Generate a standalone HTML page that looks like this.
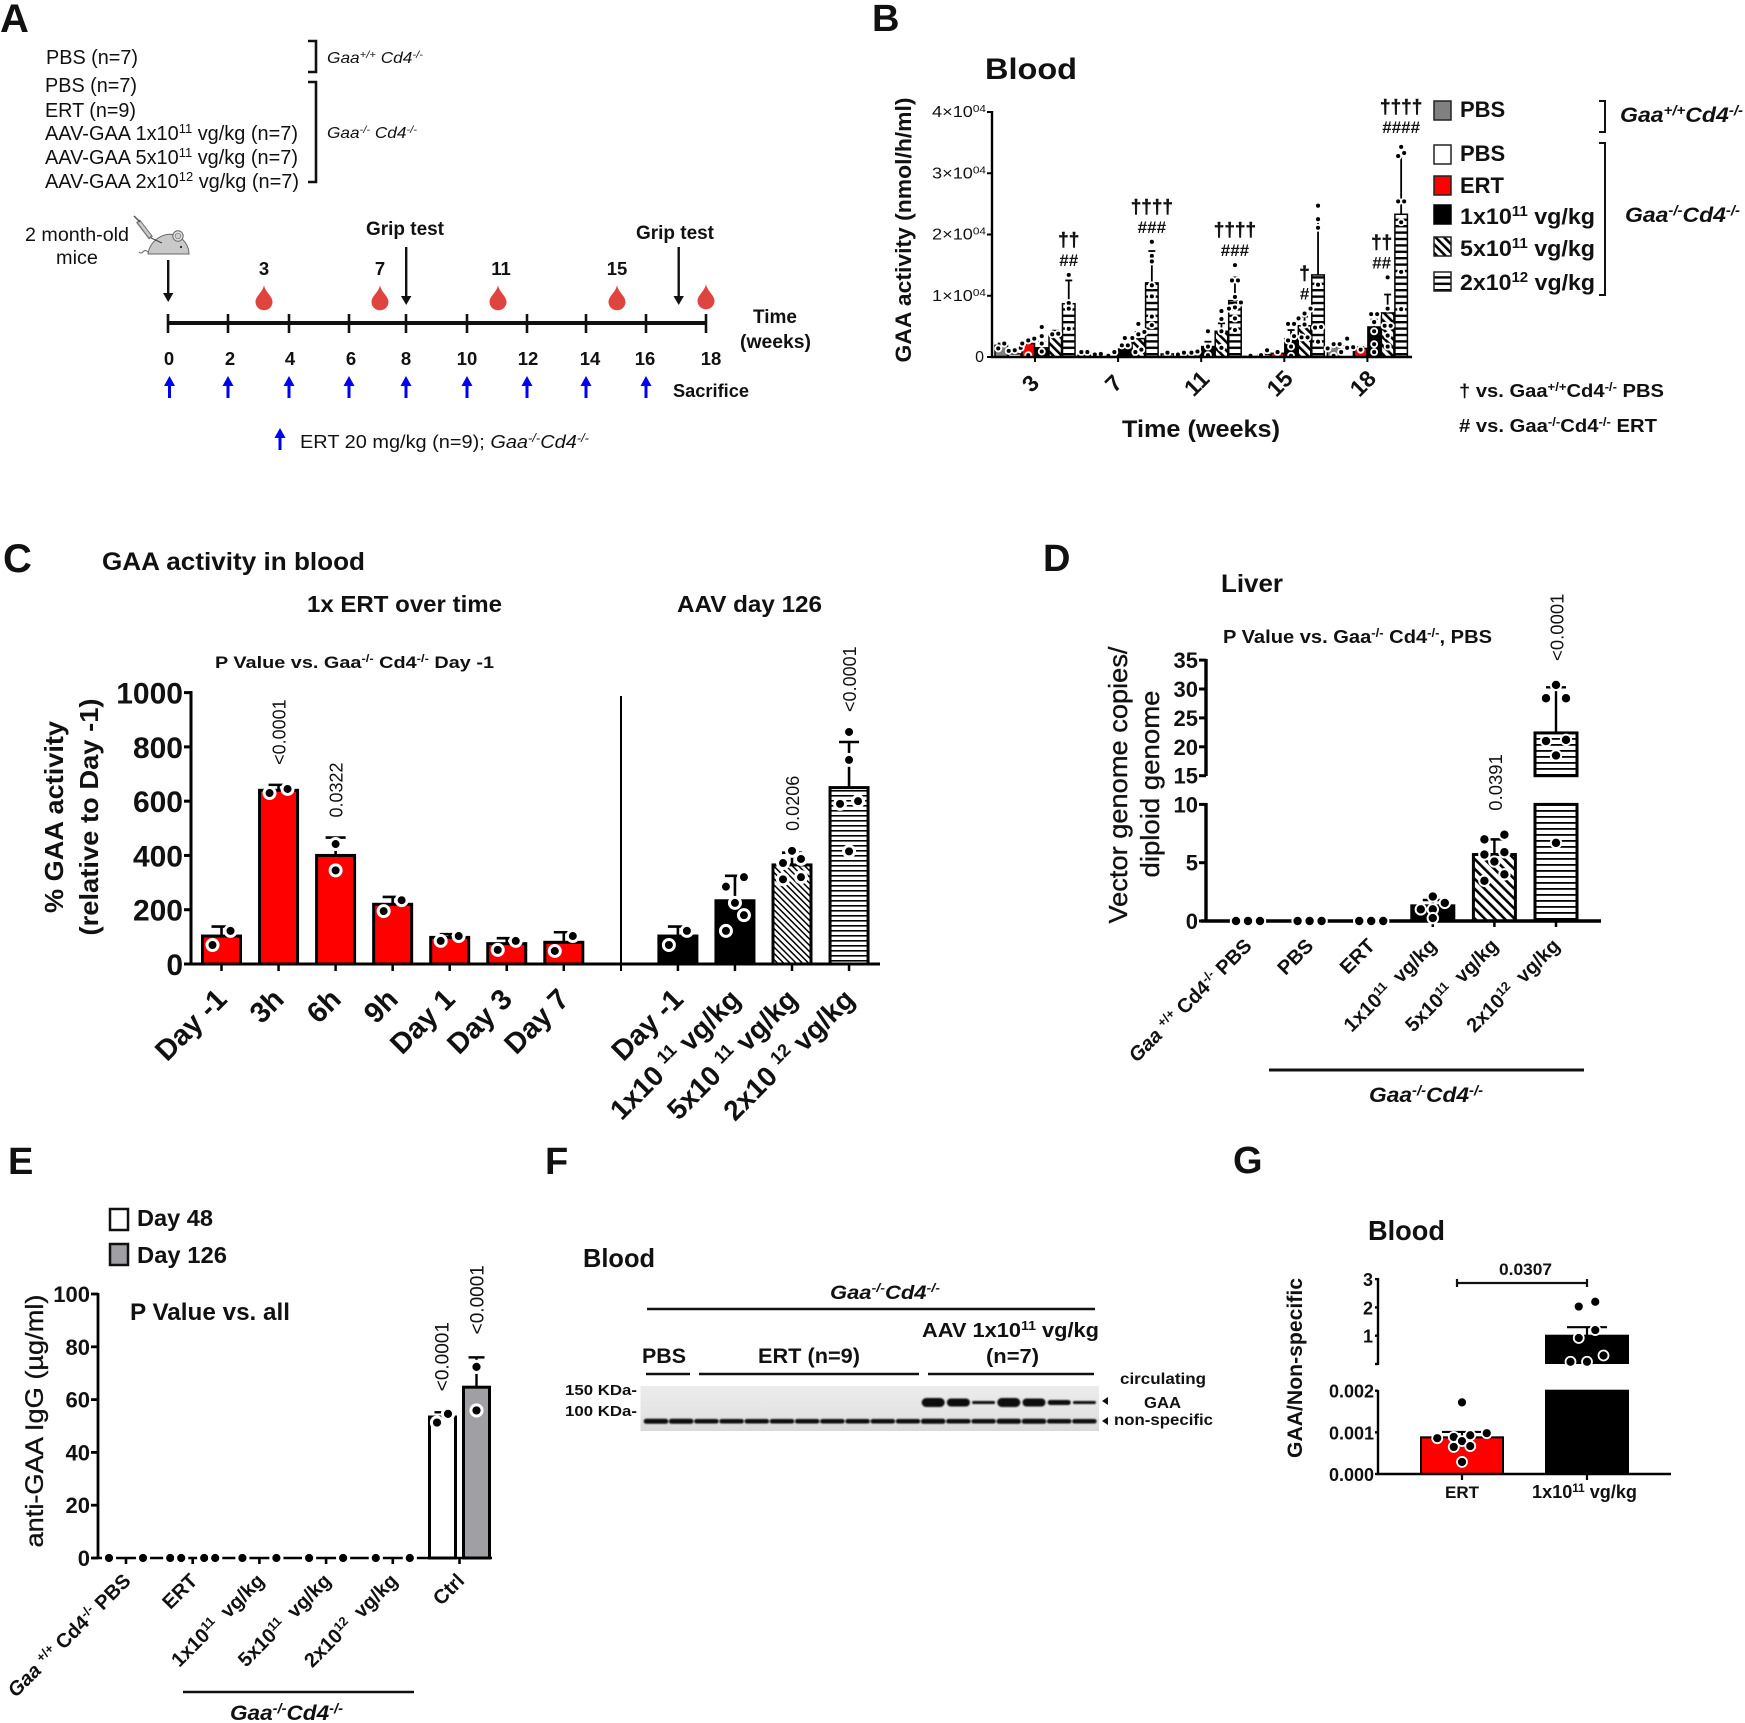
<!DOCTYPE html>
<html lang="en">
<head>
<meta charset="utf-8">
<title>GAA activity figure</title>
<style>
html,body{margin:0;padding:0;background:#fff}
svg{display:block}
text{font-family:"Liberation Sans",Arial,sans-serif;fill:#111}
.b{font-weight:bold}
.i{font-style:italic}
.s{font-size:.65em;baseline-shift:super}
.m{stroke:#111;stroke-width:.35px}
.h{stroke:#111;stroke-width:.5px}
</style>
</head>
<body>
<svg id="figure" xmlns="http://www.w3.org/2000/svg" width="1745" height="1723" viewBox="0 0 1745 1723">
<defs>
<pattern id="hatchB" patternUnits="userSpaceOnUse" width="6" height="6" patternTransform="rotate(-45)"><rect width="6" height="6" fill="#fff"/><rect width="2.6" height="6" fill="#000"/></pattern>
<pattern id="stripeB" patternUnits="userSpaceOnUse" width="6.4" height="6.4" y="1"><rect width="6.4" height="6.4" fill="#fff"/><rect width="6.4" height="2.4" fill="#000"/></pattern>
<pattern id="hatchC" patternUnits="userSpaceOnUse" width="4.4" height="4.4" patternTransform="rotate(-45)"><rect width="4.4" height="4.4" fill="#fff"/><rect width="1.5" height="4.4" fill="#000"/></pattern>
<pattern id="stripeC" patternUnits="userSpaceOnUse" width="5" height="5"><rect width="5" height="5" fill="#fff"/><rect width="5" height="1.6" fill="#000"/></pattern>
<pattern id="hatchD" patternUnits="userSpaceOnUse" width="7" height="7" patternTransform="rotate(-45)"><rect width="7" height="7" fill="#fff"/><rect width="2.6" height="7" fill="#000"/></pattern>
<pattern id="stripeD" patternUnits="userSpaceOnUse" width="6" height="6"><rect width="6" height="6" fill="#fff"/><rect width="6" height="1.8" fill="#000"/></pattern>
<linearGradient id="blotFill" x1="0" y1="0" x2="0" y2="1"><stop offset="0" stop-color="#ececec"/><stop offset=".65" stop-color="#e3e3e3"/><stop offset="1" stop-color="#d9d9d9"/></linearGradient>
<filter id="soft" x="-20%" y="-60%" width="140%" height="220%"><feGaussianBlur stdDeviation="0.8"/></filter>
</defs>

<!-- PANEL A -->
<g id="panel-a">
<text class="b" x="0" y="32" font-size="40">A</text>
<text x="46" y="64" font-size="20" textLength="92" lengthAdjust="spacingAndGlyphs">PBS (n=7)</text>
<text x="45" y="92" font-size="20" textLength="92" lengthAdjust="spacingAndGlyphs">PBS (n=7)</text>
<text x="45" y="117" font-size="20" textLength="91" lengthAdjust="spacingAndGlyphs">ERT (n=9)</text>
<text x="45" y="140" font-size="20" textLength="253" lengthAdjust="spacingAndGlyphs">AAV-GAA 1x10<tspan class="s">11</tspan> vg/kg (n=7)</text>
<text x="45" y="164" font-size="20" textLength="253" lengthAdjust="spacingAndGlyphs">AAV-GAA 5x10<tspan class="s">11</tspan> vg/kg (n=7)</text>
<text x="45" y="188" font-size="20" textLength="254" lengthAdjust="spacingAndGlyphs">AAV-GAA 2x10<tspan class="s">12</tspan> vg/kg (n=7)</text>
<path d="M308,41 H316 V72 H308" fill="none" stroke="#111" stroke-width="2.6"/>
<path d="M308,82 H316 V182 H308" fill="none" stroke="#111" stroke-width="2.6"/>
<text class="i" x="327" y="63" font-size="16" textLength="96" lengthAdjust="spacingAndGlyphs">Gaa<tspan class="s">+/+</tspan> Cd4<tspan class="s">-/-</tspan></text>
<text class="i" x="327" y="138" font-size="16" textLength="90" lengthAdjust="spacingAndGlyphs">Gaa<tspan class="s">-/-</tspan> Cd4<tspan class="s">-/-</tspan></text>

<text x="25" y="241" font-size="19" textLength="104" lengthAdjust="spacingAndGlyphs">2 month-old</text>
<text x="56" y="264" font-size="19" textLength="42" lengthAdjust="spacingAndGlyphs">mice</text>
<g>
<path d="M148,254 C150,240 164,232 175,235 C184,238 189,246 189,254 Z" fill="#c9c9c9" stroke="#666" stroke-width="1"/>
<circle cx="178" cy="236" r="5.2" fill="#e2e2e2" stroke="#666"/><circle cx="178" cy="236" r="2.8" fill="#cfcfcf" stroke="#777" stroke-width=".7"/>
<circle cx="181" cy="247" r="1.1" fill="#222"/>
<path d="M148,252 q-3,-3 -5,0 q-2,2 -4,0" fill="none" stroke="#666"/>
<line x1="138" y1="221" x2="151" y2="238" stroke="#777" stroke-width="5"/>
<line x1="139" y1="222" x2="150" y2="236.500" stroke="#ccc" stroke-width="2.6"/>
<line x1="151" y1="238" x2="162" y2="243" stroke="#444" stroke-width="1"/>
<line x1="134" y1="216" x2="140" y2="222" stroke="#555" stroke-width="1.5"/>
</g>
<g fill="#111" stroke="none">
<rect x="167" y="260" width="2.4" height="34"/><path d="M163,293 h10.400 l-5.200,9z"/>
<rect x="405" y="247" width="2.4" height="50"/><path d="M401,296 h10.400 l-5.200,9z"/>
<rect x="677.500" y="247" width="2.4" height="50"/><path d="M673.500,296 h10.400 l-5.200,9z"/>
</g>
<text class="b" x="366" y="235" font-size="19" textLength="78" lengthAdjust="spacingAndGlyphs">Grip test</text>
<text class="b" x="636" y="239" font-size="19" textLength="78" lengthAdjust="spacingAndGlyphs">Grip test</text>
<g class="b" font-size="18.500" text-anchor="middle">
<text x="264" y="275">3</text>
<text x="380" y="275">7</text>
<text x="501" y="275">11</text>
<text x="617" y="275">15</text>
</g>
<g fill="#e0443e">
<path transform="translate(264,285)" d="M0,0 C1,7 8.5,11 8.5,17 A8.5,8.3 0 0 1 -8.5,17 C-8.5,11 -1,7 0,0Z"/>
<path transform="translate(380,285)" d="M0,0 C1,7 8.5,11 8.5,17 A8.5,8.3 0 0 1 -8.5,17 C-8.5,11 -1,7 0,0Z"/>
<path transform="translate(498,285)" d="M0,0 C1,7 8.5,11 8.5,17 A8.5,8.3 0 0 1 -8.5,17 C-8.5,11 -1,7 0,0Z"/>
<path transform="translate(617,285)" d="M0,0 C1,7 8.5,11 8.5,17 A8.5,8.3 0 0 1 -8.5,17 C-8.5,11 -1,7 0,0Z"/>
<path transform="translate(706,284)" d="M0,0 C1,7 8.5,11 8.5,17 A8.5,8.3 0 0 1 -8.5,17 C-8.5,11 -1,7 0,0Z"/>
</g>
<g stroke="#111">
<line x1="168" y1="323" x2="706.5" y2="323" stroke-width="4"/>
<g stroke-width="2.6">
<line x1="168" y1="314" x2="168" y2="333"/><line x1="228" y1="314" x2="228" y2="333"/><line x1="289" y1="314" x2="289" y2="333"/><line x1="349" y1="314" x2="349" y2="333"/><line x1="406" y1="314" x2="406" y2="333"/><line x1="467" y1="314" x2="467" y2="333"/><line x1="527" y1="314" x2="527" y2="333"/><line x1="586" y1="314" x2="586" y2="333"/><line x1="646" y1="314" x2="646" y2="333"/><line x1="706" y1="314" x2="706" y2="333"/>
</g>
</g>
<g class="b" font-size="18.500" text-anchor="middle">
<text x="169" y="365">0</text>
<text x="230" y="365">2</text>
<text x="290" y="365">4</text>
<text x="351" y="365">6</text>
<text x="406" y="365">8</text>
<text x="467" y="365">10</text>
<text x="528" y="365">12</text>
<text x="590" y="365">14</text>
<text x="645" y="365">16</text>
<text x="711" y="365">18</text>
</g>
<g fill="#0000f0">
<path d="M168,398 V386 H164 L169.500,376 L175,386 H171 V398Z"/>
<path d="M226.500,398 V386 H222.500 L228,376 L233.500,386 H229.500 V398Z"/>
<path d="M287.500,398 V386 H283.500 L289,376 L294.500,386 H290.500 V398Z"/>
<path d="M347.500,398 V386 H343.500 L349,376 L354.500,386 H350.500 V398Z"/>
<path d="M404.500,398 V386 H400.500 L406,376 L411.500,386 H407.500 V398Z"/>
<path d="M465.500,398 V386 H461.500 L467,376 L472.500,386 H468.500 V398Z"/>
<path d="M525.500,398 V386 H521.500 L527,376 L532.500,386 H528.500 V398Z"/>
<path d="M584.500,398 V386 H580.500 L586,376 L591.500,386 H587.500 V398Z"/>
<path d="M644.500,398 V386 H640.500 L646,376 L651.500,386 H647.500 V398Z"/>
<path d="M278.500,450 V438 H274.500 L280,428 L285.500,438 H281.500 V450Z"/>
</g>
<text class="b" x="753" y="323" font-size="19" textLength="44" lengthAdjust="spacingAndGlyphs">Time</text>
<text class="b" x="740" y="348" font-size="19" textLength="71" lengthAdjust="spacingAndGlyphs">(weeks)</text>
<text class="b" x="673" y="397" font-size="18" textLength="76" lengthAdjust="spacingAndGlyphs">Sacrifice</text>
<text x="300" y="448" font-size="18" textLength="289" lengthAdjust="spacingAndGlyphs">ERT 20 mg/kg (n=9); <tspan class="i">Gaa<tspan class="s">-/-</tspan>Cd4<tspan class="s">-/-</tspan></tspan></text>
</g>

<!-- PANEL B static -->
<g id="panel-b">
<text class="b" x="872" y="31" font-size="38">B</text>
<text class="b" x="985" y="79" font-size="30" textLength="92" lengthAdjust="spacingAndGlyphs">Blood</text>
<text class="b" x="911" y="230" font-size="22" text-anchor="middle" textLength="265" lengthAdjust="spacingAndGlyphs" transform="rotate(-90 911 230)">GAA activity (nmol/h/ml)</text>
<text class="b" x="1122" y="437" font-size="24" textLength="158" lengthAdjust="spacingAndGlyphs">Time (weeks)</text>
<rect x="1434" y="101" width="17" height="19" fill="#808080" stroke="#222" stroke-width="1.5"/>
<rect x="1434" y="145" width="17" height="19" fill="#fff" stroke="#222" stroke-width="1.5"/>
<rect x="1434" y="176" width="17" height="19" fill="#f00" stroke="#222" stroke-width="1.5"/>
<rect x="1434" y="205" width="17" height="19" fill="#000" stroke="#000" stroke-width="1.5"/>
<rect x="1434" y="237" width="17" height="19" fill="url(#hatchB)" stroke="#222" stroke-width="1.5"/>
<rect x="1434" y="272" width="17" height="19" fill="url(#stripeB)" stroke="#222" stroke-width="1.5"/>
<g class="b" font-size="22">
<text x="1460" y="117">PBS</text>
<text x="1460" y="161">PBS</text>
<text x="1460" y="193">ERT</text>
<text x="1460" y="224" textLength="135" lengthAdjust="spacingAndGlyphs">1x10<tspan class="s">11</tspan> vg/kg</text>
<text x="1460" y="256" textLength="135" lengthAdjust="spacingAndGlyphs">5x10<tspan class="s">11</tspan> vg/kg</text>
<text x="1460" y="290" textLength="135" lengthAdjust="spacingAndGlyphs">2x10<tspan class="s">12</tspan> vg/kg</text>
</g>
<path d="M1599,101 H1605 V132 H1599" fill="none" stroke="#111" stroke-width="2"/>
<path d="M1599,143 H1605 V295 H1599" fill="none" stroke="#111" stroke-width="2"/>
<text class="b i" x="1620" y="122" font-size="21" textLength="123" lengthAdjust="spacingAndGlyphs">Gaa<tspan class="s">+/+</tspan>Cd4<tspan class="s">-/-</tspan></text>
<text class="b i" x="1625" y="222" font-size="21" textLength="115" lengthAdjust="spacingAndGlyphs">Gaa<tspan class="s">-/-</tspan>Cd4<tspan class="s">-/-</tspan></text>
<text class="b" x="1459" y="397" font-size="18" textLength="205" lengthAdjust="spacingAndGlyphs">† vs. Gaa<tspan class="s">+/+</tspan>Cd4<tspan class="s">-/-</tspan> PBS</text>
<text class="b" x="1459" y="432" font-size="18" textLength="198" lengthAdjust="spacingAndGlyphs"># vs. Gaa<tspan class="s">-/-</tspan>Cd4<tspan class="s">-/-</tspan> ERT</text>
</g>

<!-- PANEL C static -->
<g id="panel-c">
<text class="b" x="3" y="572" font-size="40">C</text>
<text class="b" x="102" y="570" font-size="25" textLength="263" lengthAdjust="spacingAndGlyphs">GAA activity in blood</text>
<text class="b" x="307" y="612" font-size="23" textLength="195" lengthAdjust="spacingAndGlyphs">1x ERT over time</text>
<text class="b" x="677" y="612" font-size="23" textLength="145" lengthAdjust="spacingAndGlyphs">AAV day 126</text>
<text class="b" x="215" y="668" font-size="17" textLength="279" lengthAdjust="spacingAndGlyphs">P Value vs. Gaa<tspan class="s">-/-</tspan> Cd4<tspan class="s">-/-</tspan> Day -1</text>
<text class="b" x="63" y="817" font-size="26" text-anchor="middle" textLength="192" lengthAdjust="spacingAndGlyphs" transform="rotate(-90 63 817)">% GAA activity</text>
<text class="b" x="98" y="817" font-size="26" text-anchor="middle" textLength="237" lengthAdjust="spacingAndGlyphs" transform="rotate(-90 98 817)">(relative to Day -1)</text>
</g>

<!-- PANEL D static -->
<g id="panel-d">
<text class="b" x="1043" y="571" font-size="38">D</text>
<text class="b" x="1221" y="592" font-size="25" textLength="62" lengthAdjust="spacingAndGlyphs">Liver</text>
<text class="b" x="1223" y="643" font-size="18" textLength="269" lengthAdjust="spacingAndGlyphs">P Value vs. Gaa<tspan class="s">-/-</tspan> Cd4<tspan class="s">-/-</tspan>, PBS</text>
<text class="m" x="1127" y="785" font-size="26" text-anchor="middle" textLength="277" lengthAdjust="spacingAndGlyphs" transform="rotate(-90 1127 785)">Vector genome copies/</text>
<text class="m" x="1159" y="784" font-size="26" text-anchor="middle" textLength="187" lengthAdjust="spacingAndGlyphs" transform="rotate(-90 1159 784)">diploid genome</text>
<line x1="1269" y1="1070" x2="1584" y2="1070" stroke="#111" stroke-width="3"/>
<text class="b i" x="1369" y="1102" font-size="21" textLength="114" lengthAdjust="spacingAndGlyphs">Gaa<tspan class="s">-/-</tspan>Cd4<tspan class="s">-/-</tspan></text>
</g>

<!-- PANEL E static -->
<g id="panel-e">
<text class="b" x="8" y="1174" font-size="38">E</text>
<rect x="110" y="1209" width="18" height="21" fill="#fff" stroke="#111" stroke-width="2.5"/>
<rect x="110" y="1244" width="18" height="21" fill="#a0a0a4" stroke="#111" stroke-width="2.5"/>
<text class="b" x="137" y="1226" font-size="23" textLength="76" lengthAdjust="spacingAndGlyphs">Day 48</text>
<text class="b" x="137" y="1263" font-size="23" textLength="90" lengthAdjust="spacingAndGlyphs">Day 126</text>
<text class="b" x="130" y="1320" font-size="24" textLength="160" lengthAdjust="spacingAndGlyphs">P Value vs. all</text>
<text class="m" x="43" y="1421" font-size="25" text-anchor="middle" textLength="253" lengthAdjust="spacingAndGlyphs" transform="rotate(-90 43 1421)">anti-GAA IgG (µg/ml)</text>
<line x1="183" y1="1692" x2="414" y2="1692" stroke="#111" stroke-width="2.6"/>
<text class="b i" x="230" y="1720" font-size="21" textLength="113" lengthAdjust="spacingAndGlyphs">Gaa<tspan class="s">-/-</tspan>Cd4<tspan class="s">-/-</tspan></text>
</g>

<!-- PANEL F static -->
<g id="panel-f">
<text class="b" x="545" y="1174" font-size="38">F</text>
<text class="b" x="583" y="1267" font-size="26" textLength="72" lengthAdjust="spacingAndGlyphs">Blood</text>
<text class="b i" x="830" y="1299" font-size="19" textLength="110" lengthAdjust="spacingAndGlyphs">Gaa<tspan class="s">-/-</tspan>Cd4<tspan class="s">-/-</tspan></text>
<line x1="647" y1="1309" x2="1095" y2="1309" stroke="#111" stroke-width="2.4"/>
<text class="b" x="922" y="1337" font-size="20" textLength="177" lengthAdjust="spacingAndGlyphs">AAV 1x10<tspan class="s">11</tspan> vg/kg</text>
<text class="b" x="986" y="1363" font-size="20" textLength="53" lengthAdjust="spacingAndGlyphs">(n=7)</text>
<text class="b" x="642" y="1363" font-size="21" textLength="44" lengthAdjust="spacingAndGlyphs">PBS</text>
<text class="b" x="758" y="1363" font-size="21" textLength="102" lengthAdjust="spacingAndGlyphs">ERT (n=9)</text>
<g stroke="#111" stroke-width="2.4">
<line x1="646" y1="1374" x2="690" y2="1374"/><line x1="699" y1="1374" x2="919" y2="1374"/><line x1="928" y1="1374" x2="1094" y2="1374"/>
</g>
<text class="b" x="565" y="1395" font-size="15" textLength="72" lengthAdjust="spacingAndGlyphs">150 KDa-</text>
<text class="b" x="565" y="1416" font-size="15" textLength="72" lengthAdjust="spacingAndGlyphs">100 KDa-</text>
<rect id="blot-bg" x="640.500" y="1386" width="458.500" height="45" fill="url(#blotFill)"/>
<path d="M1108,1397 v8 l-6,-4z M1108,1417 v8 l-6,-4z" fill="#111"/>
<text class="b" x="1120" y="1384" font-size="16" textLength="86" lengthAdjust="spacingAndGlyphs">circulating</text>
<text class="b" x="1144" y="1408" font-size="16" textLength="37" lengthAdjust="spacingAndGlyphs">GAA</text>
<text class="b" x="1114" y="1425" font-size="16" textLength="99" lengthAdjust="spacingAndGlyphs">non-specific</text>
</g>

<!-- PANEL G static -->
<g id="panel-g">
<text class="b" x="1233" y="1173" font-size="38">G</text>
<text class="b" x="1368" y="1240" font-size="28" textLength="77" lengthAdjust="spacingAndGlyphs">Blood</text>
<text class="b" x="1302" y="1368" font-size="21" text-anchor="middle" textLength="180" lengthAdjust="spacingAndGlyphs" transform="rotate(-90 1302 1368)">GAA/Non-specific</text>
<path d="M1457,1279 V1287 M1457,1283 H1587 M1587,1279 V1287" fill="none" stroke="#111" stroke-width="2.2"/>
<text class="b" x="1499" y="1275" font-size="17" textLength="53" lengthAdjust="spacingAndGlyphs">0.0307</text>
</g>

<script>
// ---------- Panel B data ----------
const bWeeks = ['3', '7', '11', '15', '18'];
const bSeriesNames = ['control-pbs', 'pbs', 'ert', 'low-dose', 'mid-dose', 'high-dose'];
const bMeans = [
  [1900, 300, 500, 100, 1700],
  [500, 300, 500, 400, 1300],
  [2200, 400, 500, 600, 1400],
  [1500, 1300, 1700, 3000, 4900],
  [3500, 3000, 4200, 5100, 7200],
  [8700, 12100, 9200, 13400, 23300]
];
const bErrors = [
  [300, 200, 200, 100, 300],
  [300, 100, 100, 300, 500],
  [600, 200, 200, 300, 200],
  [1000, 600, 800, 1400, 1200],
  [800, 1100, 1300, 1500, 3000],
  [3800, 5200, 3800, 9100, 9600]
];
const bPoints = [
  [[2200, 1400], [800, 800], [700], [200], [2100, 2100, 1400, 200]],
  [[1500, 1000, 1100], [400, 500], [700, 400], [1100, 300], [3000, 1600, 1500, 800]],
  [[3000, 2200, 2700, 300], [800, 200], [700, 900], [800], [1200]],
  [[4900, 3400, 2200, 900], [1900, 1900, 3100], [4200, 1700, 300], [2700, 5400, 5400, 3400, 1700, 200], [7000, 7000, 5700, 4200, 2100, 800]],
  [[3700, 3800], [3100, 5400, 4100, 3700, 1200, 800], [6200, 4200, 1500, 7500], [7100, 7900, 6300, 5300, 3200, 3200], [13000, 7900, 5100, 5100, 3500, 1700]],
  [[13400, 8800, 7900, 4600], [18800, 16500, 15600, 11700, 9900, 6600, 5200], [15000, 12500, 12500, 7900, 8100, 9800, 8900, 4400, 6300], [24700, 22500, 21100, 11800, 4900, 4800, 2500], [34300, 33300, 32800, 25400, 25400, 22000, 13900, 7800]]
];
const bTickValues = [0, 10000, 20000, 30000, 40000];
const bTickLabels = ['0', '1×10^{04}', '2×10^{04}', '3×10^{04}', '4×10^{04}'];
const bSigWeeks = [0, 1, 2, 3, 4, 4];
const bSigSeries = [5, 5, 5, 4, 4, 5];
const bSigDaggers = ['††', '††††', '††††', '†', '††', '††††'];
const bSigHashes = ['##', '###', '###', '#', '##', '####'];

// ---------- Panel C data ----------
const cCategories = ['Day -1', '3h', '6h', '9h', 'Day 1', 'Day 3', 'Day 7', 'Day -1', '1x10 ^{11} vg/kg', '5x10 ^{11} vg/kg', '2x10 ^{12} vg/kg'];
const cMeans = [103, 640, 400, 220, 98, 75, 80, 103, 233, 365, 650];
const cErrors = [35, 20, 66, 27, 12, 20, 37, 35, 92, 45, 168];
const cPoints = [[70, 122], [630, 645], [345, 442], [195, 235], [85, 103], [52, 85], [48, 103], [70, 122], [122, 180, 225, 285, 320], [312, 320, 372, 387, 417], [415, 590, 600, 752, 855]];
const cPValues = ['', '<0.0001', '0.0322', '', '', '', '', '', '', '0.0206', '<0.0001'];
const cTickValues = [0, 200, 400, 600, 800, 1000];

// ---------- Panel D data ----------
const dCategories = ['*Gaa* ^{+/+} Cd4^{-/-} PBS', 'PBS', 'ERT', '1x10^{11}\u00a0 vg/kg', '5x10^{11}\u00a0 vg/kg', '2x10^{12}\u00a0 vg/kg'];
const dMeans = [0, 0, 0, 1.3, 5.7, 22.4];
const dErrors = [0, 0, 0, 0.5, 1.3, 7.9];
const dPoints = [[0, 0, 0], [0, 0, 0], [0, 0, 0], [2.1, 1.55, 1.0, 1.0, 0.25], [7.4, 7.0, 5.9, 5.7, 5.1, 4.0, 3.45], [30.7, 28.4, 28.4, 21.2, 21.0, 18.5, 6.7]];
const dPValues = ['', '', '', '', '0.0391', '<0.0001'];
const dTickValues = [0, 5, 10, 15, 20, 25, 30, 35];

// ---------- Panel E data ----------
const eCategories = ['*Gaa* ^{+/+} Cd4^{-/-} PBS', 'ERT', '1x10^{11}\u00a0 vg/kg', '5x10^{11}\u00a0 vg/kg', '2x10^{12}\u00a0 vg/kg', 'Ctrl'];
const eDay48Means = [0, 0, 0, 0, 0, 53.4];
const eDay126Means = [0, 0, 0, 0, 0, 64.7];
const eDay48Errors = [0, 0, 0, 0, 0, 1.8];
const eDay126Errors = [0, 0, 0, 0, 0, 11.3];
const eDay48Points = [[0], [0, 0], [0], [0], [0], [51.3, 54.6]];
const eDay126Points = [[0], [0, 0], [0], [0], [0], [72.4, 55.9]];
const ePValues48 = ['', '', '', '', '', '<0.0001'];
const ePValues126 = ['', '', '', '', '', '<0.0001'];
const eTickValues = [0, 20, 40, 60, 80, 100];

// ---------- Panel F data (band strength per lane) ----------
const fGaaBands = [0, 0, 0, 0, 0, 0, 0, 0, 0, 0, 0, 9, 8, 3, 9, 8, 5, 3];
const fNonSpecificBands = [5, 5, 4.5, 4.5, 4.5, 4.5, 4.5, 4.5, 4.5, 4.5, 4.5, 5, 4.5, 4.5, 5, 5, 4.5, 4.5];

// ---------- Panel G data ----------
const gCategories = ['ERT', '1x10^{11} vg/kg'];
const gMeans = [0.00088, 1.0];
const gErrors = [0.00013, 0.3];
const gPoints = [[0.00172, 0.00098, 0.00093, 0.00089, 0.00086, 0.00079, 0.00067, 0.00065, 0.00029], [2.2, 2.03, 1.2, 0.92, 0.3, 0.08, 0.08]];
const gLowerTicks = [0, 0.001, 0.002];
const gLowerLabels = ['0.000', '0.001', '0.002'];
const gUpperTicks = [1, 2, 3];

// ---------- Drawing helpers ----------
const NS = 'http://www.w3.org/2000/svg';
const svg = document.getElementById('figure');

function make(tag, attrs, parent) {
  const el = document.createElementNS(NS, tag);
  for (const k in attrs) el.setAttribute(k, attrs[k]);
  parent.appendChild(el);
  return el;
}

function drawRect(parent, x, yTop, w, yBase, fill, sw, name) {
  const el = make('rect', { x: x, y: yTop, width: w, height: Math.max(0, yBase - yTop), fill: fill, stroke: '#000', 'stroke-width': sw }, parent);
  
  
  return el;
}

function drawLine(parent, x1, y1, x2, y2, sw, name) {
  const el = make('line', { x1: x1, y1: y1, x2: x2, y2: y2, stroke: '#000', 'stroke-width': sw }, parent);
  
  
  return el;
}

function drawError(parent, cx, yMean, yTop, capHalf, sw, name) {
  drawLine(parent, cx, yMean, cx, yTop, sw, name + '-stem');
  drawLine(parent, cx - capHalf, yTop, cx + capHalf, yTop, sw, name + '-cap');
}

// Beeswarm: walks the values bottom to top, spreads close neighbours sideways.
function swarmOffsets(values, yFn, gap, spread, maxRow, pairSpread) {
  const order = values.map((v, i) => i).sort((a, b) => yFn(values[b]) - yFn(values[a]));
  const out = new Array(values.length).fill(0);
  let cluster = [];
  const placeRow = row => {
    const s = row.length === 2 && pairSpread ? pairSpread : spread;
    row.forEach((idx, k) => { out[idx] = (k - (row.length - 1) / 2) * s; });
  };
  const flush = () => {
    for (let i = 0; i < cluster.length; i += maxRow) placeRow(cluster.slice(i, i + maxRow));
    cluster = [];
  };
  order.forEach((idx, i) => {
    if (i > 0 && Math.abs(yFn(values[idx]) - yFn(values[order[i - 1]])) > gap) flush();
    cluster.push(idx);
  });
  flush();
  return out;
}

function drawDots(parent, cx, values, yFn, gap, spread, r, halo, name, maxRow, pairSpread) {
  const offs = swarmOffsets(values, yFn, gap, spread, maxRow || 99, pairSpread);
  values.forEach((v, i) => {
    const el = make('circle', { cx: cx + offs[i], cy: yFn(v), r: r, fill: '#000', stroke: '#fff', 'stroke-width': halo }, parent);
    
    
  });
}

function fillRich(el, label) {
  label.split(/(\^\{[^}]*\}|\*[^*]*\*)/).forEach(part => {
    if (!part) return;
    if (part[0] === '^') {
      const t = make('tspan', { class: 's' }, el);
      t.textContent = part.slice(2, -1);
    } else if (part[0] === '*') {
      const t = make('tspan', { class: 'i' }, el);
      t.textContent = part.slice(1, -1);
    } else {
      el.appendChild(document.createTextNode(part));
    }
  });
}

function drawText(parent, x, y, label, o, name) {
  const attrs = { x: x, y: y, 'font-size': o.size };
  if (o.bold) attrs['class'] = o.heavy ? 'b h' : 'b';
  if (o.anchor) attrs['text-anchor'] = o.anchor;
  if (o.rot) attrs.transform = 'rotate(' + o.rot + ' ' + x + ' ' + y + ')';
  if (o.len) { attrs.textLength = o.len; attrs.lengthAdjust = 'spacingAndGlyphs'; }
  const el = make('text', attrs, parent);
  
  
  fillRich(el, label);
  return el;
}

function group(name) {
  const el = make('g', {}, svg);
  
  
  return el;
}

// ---------- Panel B ----------
(function () {
  const g = group('panel-b-chart');
  const y = v => 357 - v * 61.25 / 10000;
  const groupLeft = i => 995 + 83.1 * i;
  const barW = 13.5;
  const fills = ['#808080', '#fff', '#f00', '#000', 'url(#hatchB)', 'url(#stripeB)'];
  bWeeks.forEach((wk, w) => {
    bSeriesNames.forEach((s, k) => {
      drawRect(g, groupLeft(w) + k * barW, y(bMeans[k][w]), barW - 1, y(0), fills[k], 1.5, 'bar-week-' + wk + '-' + s);
    });
    const tickX = groupLeft(w) + 40;
    drawLine(g, tickX, 357, tickX, 362, 2, 'x-tick-week-' + wk);
    drawText(g, tickX + 1, 389, wk, { size: 23, bold: true, anchor: 'middle', rot: -45 }, 'x-label-week-' + wk);
  });
  bWeeks.forEach((wk, w) => {
    bSeriesNames.forEach((s, k) => {
      const cx = groupLeft(w) + k * barW + (barW - 1) / 2;
      drawError(g, cx, y(bMeans[k][w]), y(bMeans[k][w] + bErrors[k][w]), 3.5, 1.8, 'error-week-' + wk + '-' + s);
    });
    bSeriesNames.forEach((s, k) => {
      const cx = groupLeft(w) + k * barW + (barW - 1) / 2;
      drawDots(g, cx, bPoints[k][w], y, 5, 6, 3, 1.9, 'point-week-' + wk + '-' + s, 3);
    });
  });
  drawLine(g, 992, 111, 992, 358, 2.4, 'y-axis-line');
  drawLine(g, 991, 357, 1412, 357, 2.4, 'x-axis-line');
  bTickValues.forEach((v, i) => {
    drawLine(g, 987, y(v), 992, y(v), 2, 'y-tick-' + v);
    if (v === 0) drawText(g, 984, y(v) + 5, bTickLabels[i], { size: 16, anchor: 'end' }, 'y-label-' + v);
    else drawText(g, 932, y(v) + 5, bTickLabels[i], { size: 16, len: 54 }, 'y-label-' + v);
  });
  bSigWeeks.forEach((w, i) => {
    const k = bSigSeries[i];
    const nudge = w === 4 && k === 4 ? -6 : 0;
    const cx = groupLeft(w) + k * barW + (barW - 1) / 2 + nudge;
    const top = Math.min.apply(null, bPoints[k][w].map(y));
    const hashY = top - (bSigHashes[i] === '####' ? 14 : 9);
    drawText(g, cx, hashY, bSigHashes[i], { size: 17, bold: true, anchor: 'middle' }, 'significance-hash-week-' + bWeeks[w]);
    drawText(g, cx, hashY - 20, bSigDaggers[i], { size: 19, bold: true, heavy: true, anchor: 'middle' }, 'significance-dagger-week-' + bWeeks[w]);
  });
})();

// ---------- Panel C ----------
(function () {
  const g = group('panel-c-chart');
  const y = v => 964 - v * 0.2714;
  const x = i => 221.5 + 57.05 * (i < 7 ? i : i + 1);
  const fills = ['#f00', '#f00', '#f00', '#f00', '#f00', '#f00', '#f00', '#000', '#000', 'url(#hatchC)', 'url(#stripeC)'];
  cCategories.forEach((c, i) => {
    drawRect(g, x(i) - 19, y(cMeans[i]), 38, y(0), fills[i], 3, 'bar-' + i);
    drawLine(g, x(i), 964, x(i), 971, 2.5, 'x-tick-' + i);
  });
  cCategories.forEach((c, i) => {
    drawError(g, x(i), y(cMeans[i]), y(cMeans[i] + cErrors[i]), 10, 2.6, 'error-bar-' + i);
    drawDots(g, x(i), cPoints[i], y, 16.2, 18, 5.5, 3, 'point-bar-' + i, 2);
    const long = i >= 8;
    drawText(g, x(i) + 7, 1001, c, { size: long ? 28 : 29, bold: true, anchor: 'end', rot: -45 }, 'x-label-' + i);
    if (cPValues[i]) {
      const top = Math.min(y(cMeans[i] + cErrors[i]), Math.min.apply(null, cPoints[i].map(y)));
      drawText(g, x(i) + 7, top - 20, cPValues[i], { size: 18, rot: -90 }, 'p-value-' + i);
    }
  });
  drawLine(g, 191, 691, 191, 965, 3, 'y-axis-line');
  drawLine(g, 189.5, 964, 880, 964, 3, 'x-axis-line');
  drawLine(g, 621, 696, 621, 971, 2, 'section-divider');
  cTickValues.forEach(v => {
    drawLine(g, 184, y(v), 191, y(v), 3, 'y-tick-' + v);
    drawText(g, 183, y(v) + 11, String(v), { size: 30, bold: true, anchor: 'end' }, 'y-label-' + v);
  });
})();

// ---------- Panel D ----------
(function () {
  const g = group('panel-d-chart');
  const y = v => v <= 10 ? 921 - v * 11.66 : 775.7 - (v - 15) * 5.78;
  const x = i => 1248 + 61.6 * i;
  const fills = ['#fff', '#fff', '#fff', '#000', 'url(#hatchD)', 'url(#stripeD)'];
  dCategories.forEach((c, i) => {
    if (dMeans[i] > 0) {
      if (dMeans[i] > 10) {
        drawRect(g, x(i) - 21, y(dMeans[i]), 42, y(15), fills[i], 3, 'bar-upper-segment-' + i);
        drawRect(g, x(i) - 21, y(10), 42, y(0), fills[i], 3, 'bar-lower-segment-' + i);
      } else {
        drawRect(g, x(i) - 21, y(dMeans[i]), 42, y(0), fills[i], 3, 'bar-' + i);
      }
    }
    drawLine(g, x(i), 921, x(i), 927, 2.5, 'x-tick-' + i);
  });
  drawLine(g, 1201, 921, 1601, 921, 3.6, 'x-axis-line');
  dCategories.forEach((c, i) => {
    if (dMeans[i] > 0) drawError(g, x(i), y(dMeans[i]), y(dMeans[i] + dErrors[i]), 10, 2.4, 'error-bar-' + i);
    drawDots(g, x(i), dPoints[i], y, 6.9, 12, 5.2, 2, 'point-bar-' + i, 3, 20);
    drawText(g, x(i) + 5, 947, c, { size: 20, bold: true, anchor: 'end', rot: -45 }, 'x-label-' + i);
    if (dPValues[i]) {
      const top = Math.min(y(dMeans[i] + dErrors[i]), Math.min.apply(null, dPoints[i].map(y)));
      drawText(g, x(i) + 7.5, top - 24, dPValues[i], { size: 18.5, rot: -90 }, 'p-value-' + i);
    }
  });
  drawLine(g, 1206, 659, 1206, 776, 3.4, 'y-axis-upper-segment');
  drawLine(g, 1206, 803, 1206, 922, 3.4, 'y-axis-lower-segment');
  dTickValues.forEach(v => {
    drawLine(g, 1199, y(v), 1206, y(v), 3, 'y-tick-' + v);
    drawText(g, 1198, y(v) + 8, String(v), { size: 22, bold: true, anchor: 'end' }, 'y-label-' + v);
  });
})();

// ---------- Panel E ----------
(function () {
  const g = group('panel-e-chart');
  const y = v => 1558 - v * 2.64;
  const x = i => 126 + 66.7 * i;
  drawLine(g, 93, 1558, 492, 1558, 2.6, 'x-axis-line');
  eCategories.forEach((c, i) => {
    if (eDay48Means[i] > 0) drawRect(g, x(i) - 30, y(eDay48Means[i]), 26, y(0), '#fff', 3, 'bar-day-48-' + i);
    if (eDay126Means[i] > 0) drawRect(g, x(i) + 4, y(eDay126Means[i]), 26, y(0), '#a0a0a4', 3, 'bar-day-126-' + i);
    drawLine(g, x(i), 1558, x(i), 1564, 2.6, 'x-tick-' + i);
  });
  eCategories.forEach((c, i) => {
    const cx48 = x(i) - 17;
    const cx126 = x(i) + 17;
    if (eDay48Means[i] > 0) drawError(g, cx48, y(eDay48Means[i]), y(eDay48Means[i] + eDay48Errors[i]), 8, 2.4, 'error-day-48-' + i);
    if (eDay126Means[i] > 0) drawError(g, cx126, y(eDay126Means[i]), y(eDay126Means[i] + eDay126Errors[i]), 8, 2.4, 'error-day-126-' + i);
    drawDots(g, cx48, eDay48Points[i], y, 10, 11, 5.6, 3, 'point-day-48-' + i);
    drawDots(g, cx126, eDay126Points[i], y, 10, 11, 5.6, 3, 'point-day-126-' + i);
    drawText(g, x(i) + 6, 1582, c, { size: 20, bold: true, anchor: 'end', rot: -45 }, 'x-label-' + i);
    if (ePValues48[i]) drawText(g, cx48 + 6, y(eDay48Means[i] + eDay48Errors[i]) - 21, ePValues48[i], { size: 19, rot: -90 }, 'p-value-day-48-' + i);
    if (ePValues126[i]) drawText(g, cx126 + 7, y(eDay126Means[i] + eDay126Errors[i]) - 23, ePValues126[i], { size: 19, rot: -90 }, 'p-value-day-126-' + i);
  });
  drawLine(g, 98, 1293, 98, 1559, 2.8, 'y-axis-line');
  eTickValues.forEach(v => {
    drawLine(g, 91, y(v), 98, y(v), 2.8, 'y-tick-' + v);
    drawText(g, 90, y(v) + 8, String(v), { size: 22, bold: true, anchor: 'end' }, 'y-label-' + v);
  });
})();

// ---------- Panel F ----------
(function () {
  const g = group('panel-f-bands');
  g.setAttribute('filter', 'url(#soft)');
  const laneX = i => 656 + 25.2 * i;
  function drawBand(i, yc, thickness, width, name) {
    const el = make('rect', { x: laneX(i) - width / 2, y: yc - thickness / 2, width: width, height: thickness, rx: thickness / 2, fill: '#0a0a0a' }, g);
    
    
  }
  fGaaBands.forEach((t, i) => { if (t > 0) drawBand(i, 1402.5, t, 23, 'gaa-band-lane-' + (i + 1)); });
  fNonSpecificBands.forEach((t, i) => { drawBand(i, 1421.3, t, 24.5, 'non-specific-band-lane-' + (i + 1)); });
})();

// ---------- Panel G ----------
(function () {
  const g = group('panel-g-chart');
  const y = v => v <= 0.01 ? 1474 - v * 41650 : 1364 - v * 28.3;
  const x = i => 1462 + 125 * i;
  const fills = ['#f00', '#000'];
  gCategories.forEach((c, i) => {
    if (gMeans[i] > 0.01) {
      drawRect(g, x(i) - 41, y(gMeans[i]), 82, 1363, fills[i], 2, 'bar-upper-segment-' + i);
      drawRect(g, x(i) - 41, y(0.002), 82, y(0), fills[i], 2, 'bar-lower-segment-' + i);
    } else {
      drawRect(g, x(i) - 41, y(gMeans[i]), 82, y(0), fills[i], 2, 'bar-' + i);
    }
    drawLine(g, x(i), 1474, x(i), 1480, 2.2, 'x-tick-' + i);
  });
  gCategories.forEach((c, i) => {
    drawError(g, x(i), y(gMeans[i]), y(gMeans[i] + gErrors[i]), 20, 2.2, 'error-bar-' + i);
    drawDots(g, x(i), gPoints[i], y, i === 0 ? 2.5 : 8.5, 16.5, 5, 1.8, 'point-bar-' + i);
    if (i === 0) drawText(g, x(i), 1498, c, { size: 17, bold: true, anchor: 'middle' }, 'x-label-' + i);
    else drawText(g, x(i) - 2.5, 1498, c, { size: 18, bold: true, anchor: 'middle', len: 105 }, 'x-label-' + i);
  });
  drawLine(g, 1378, 1278, 1378, 1365, 2.4, 'y-axis-upper-segment');
  drawLine(g, 1378, 1390, 1378, 1475, 2.4, 'y-axis-lower-segment');
  drawLine(g, 1377, 1474, 1671, 1474, 2.4, 'x-axis-line');
  gLowerTicks.forEach((v, i) => {
    drawLine(g, 1375, y(v), 1378, y(v), 2.4, 'y-tick-lower-' + i);
    drawText(g, 1374, y(v) + 7, gLowerLabels[i], { size: 18, bold: true, anchor: 'end' }, 'y-label-lower-' + i);
  });
  gUpperTicks.forEach(v => {
    drawLine(g, 1375, y(v), 1378, y(v), 2.4, 'y-tick-upper-' + v);
    drawText(g, 1373, y(v) + 7, String(v), { size: 18, bold: true, anchor: 'end' }, 'y-label-upper-' + v);
  });
  drawLine(g, 1375, 1364, 1378, 1364, 2.4, 'y-tick-upper-base');
})();
</script>
</svg>
</body>
</html>
